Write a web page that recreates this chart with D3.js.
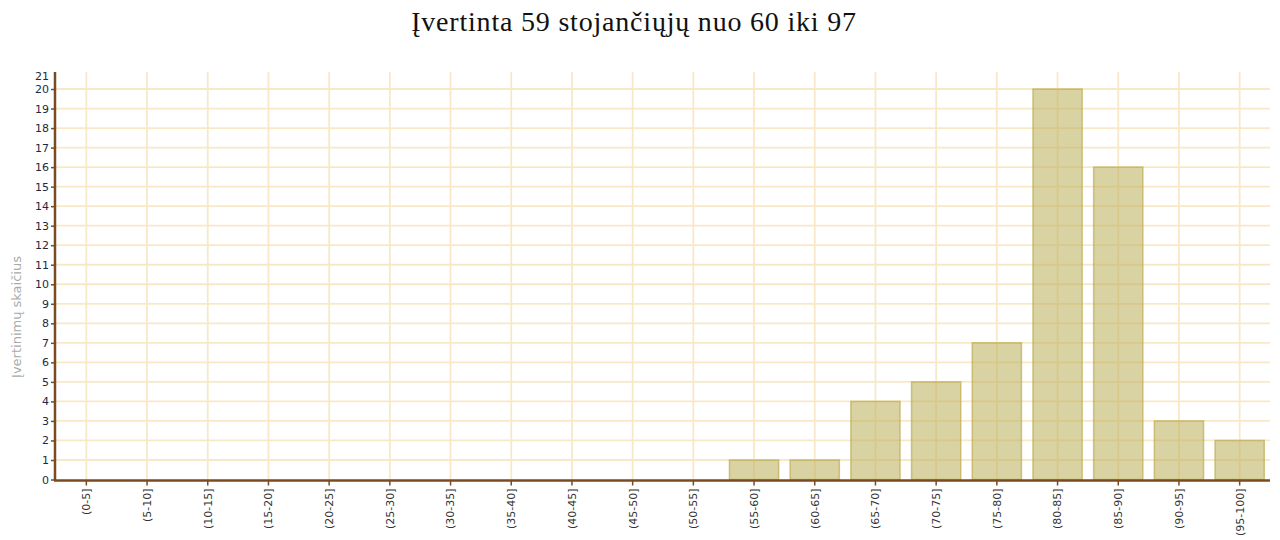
<!DOCTYPE html>
<html>
<head>
<meta charset="utf-8">
<script src="https://cdn.jsdelivr.net/npm/d3@7"></script>
<style>
  body { margin: 0; background: #fff; }
  svg { display: block; }
</style>
</head>
<body>
<div id="chart"></div>
<script>
var titleText = "Įvertinta 59 stojančiųjų nuo 60 iki 97";
var yLabel = "Įvertinimų skaičius";
var categories = ["(0-5]", "(5-10]", "(10-15]", "(15-20]", "(20-25]", "(25-30]", "(30-35]",
    "(35-40]", "(40-45]", "(45-50]", "(50-55]", "(55-60]", "(60-65]", "(65-70]", "(70-75]",
    "(75-80]", "(80-85]", "(85-90]", "(90-95]", "(95-100]"];
var counts = [0, 0, 0, 0, 0, 0, 0, 0, 0, 0, 0, 1, 1, 4, 5, 7, 20, 16, 3, 2];
var yTicks = d3.range(0, 22);

function createChart(div) {
    var width = 1280, height = 540;
    var left = 56, right = 1270, top = 69.5, bottom = 479.5;

    var svg = d3.select(div)
        .append("svg")
        .attr("width", width)
        .attr("height", height);

    var x = d3.scaleBand()
        .domain(categories)
        .range([left, right])
        .paddingInner(0.19)
        .paddingOuter(0.095);

    var y = d3.scaleLinear()
        .domain([0, 21])
        .range([bottom, top]);

    // grid
    svg.append("g")
        .selectAll("line")
        .data(yTicks.filter(function(d) { return d > 0 && d < 21; }))
        .enter()
        .append("line")
        .attr("x1", left)
        .attr("x2", right)
        .attr("y1", function(d) { return y(d); })
        .attr("y2", function(d) { return y(d); })
        .attr("stroke", "#f9e8c6")
        .attr("stroke-width", 1.8);

    svg.append("g")
        .selectAll("line")
        .data(categories)
        .enter()
        .append("line")
        .attr("x1", function(d) { return x(d) + x.bandwidth() / 2; })
        .attr("x2", function(d) { return x(d) + x.bandwidth() / 2; })
        .attr("y1", 72)
        .attr("y2", bottom)
        .attr("stroke", "#f9e8c6")
        .attr("stroke-width", 1.8);

    // bars
    svg.append("g")
        .selectAll("rect")
        .data(counts)
        .enter()
        .append("rect")
        .attr("x", function(d, i) { return x(categories[i]); })
        .attr("y", function(d) { return y(d); })
        .attr("width", x.bandwidth())
        .attr("height", function(d) { return bottom - y(d); })
        .attr("fill", "rgba(192,180,100,0.6)")
        .attr("stroke", "rgba(190,172,80,0.7)")
        .attr("stroke-width", 1.5);

    // y axis
    var yAxis = svg.append("g")
        .attr("transform", "translate(" + (left - 1) + ",0)")
        .call(d3.axisLeft(y).tickValues(yTicks).tickFormat(d3.format("d")).tickSize(4).tickPadding(2));
    yAxis.select(".domain").remove();
    yAxis.selectAll(".tick line").attr("stroke", "#7a4a22").attr("stroke-width", 1.5);
    yAxis.selectAll(".tick").filter(function(d) { return d === 21; }).select("line").remove();
    yAxis.selectAll(".tick").filter(function(d) { return d === 21; }).select("text").attr("dy", "0.9em");
    yAxis.selectAll("text")
        .style("font-family", "Tahoma, 'DejaVu Sans', sans-serif")
        .style("font-size", "11px")
        .attr("fill", "#1c2a44");
    svg.append("line")
        .attr("x1", left - 1).attr("x2", left - 1)
        .attr("y1", 72).attr("y2", bottom + 1)
        .attr("stroke", "#7a4a22")
        .attr("stroke-width", 2.5);

    // x axis
    var xAxis = svg.append("g")
        .attr("transform", "translate(0," + (bottom + 1) + ")")
        .call(d3.axisBottom(x).tickSize(5).tickPadding(3));
    xAxis.select(".domain").remove();
    xAxis.selectAll(".tick line").attr("stroke", "#7a4a22").attr("stroke-width", 1.5);
    xAxis.selectAll("text")
        .style("font-family", "Tahoma, 'DejaVu Sans', sans-serif")
        .style("font-size", "11px")
        .attr("fill", "#333")
        .attr("text-anchor", "end")
        .attr("transform", "rotate(-90)")
        .attr("x", -8)
        .attr("y", 0)
        .attr("dy", "0.35em");
    svg.append("line")
        .attr("x1", left - 2).attr("x2", right)
        .attr("y1", bottom + 1).attr("y2", bottom + 1)
        .attr("stroke", "#7a4a22")
        .attr("stroke-width", 2.5);

    // titles
    svg.append("text")
        .attr("x", 634)
        .attr("y", 31)
        .attr("text-anchor", "middle")
        .style("font-family", "'Liberation Serif', 'Times New Roman', serif")
        .style("font-size", "28px")
        .style("letter-spacing", "0.8px")
        .attr("fill", "#111")
        .text(titleText);

    svg.append("text")
        .attr("transform", "translate(21,317) rotate(-90)")
        .attr("text-anchor", "middle")
        .style("font-family", "Tahoma, 'DejaVu Sans', sans-serif")
        .style("font-size", "13px")
        .attr("fill", "#a8aca8")
        .text(yLabel);
}

createChart("#chart");
</script>
</body>
</html>
